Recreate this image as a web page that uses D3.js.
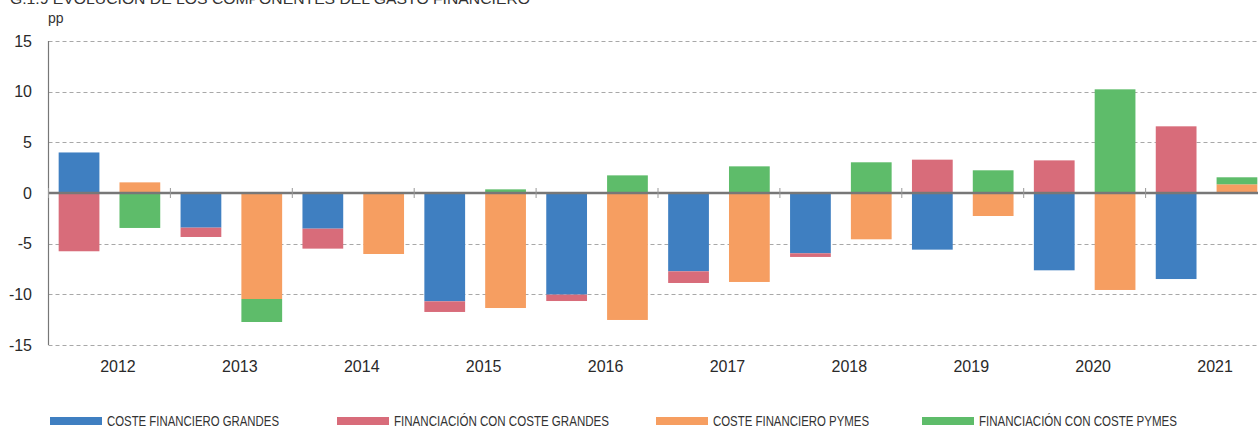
<!DOCTYPE html>
<html>
<head>
<meta charset="utf-8">
<script src="https://cdn.jsdelivr.net/npm/d3@7"></script>
<style>
  html, body { margin: 0; padding: 0; background: #fff; }
  svg { display: block; font-family: "Liberation Sans", Arial, Helvetica, sans-serif; }
</style>
</head>
<body>
<svg id="chart" width="1258" height="427"></svg>
<script>
// Years on the category axis
const years = ["2012", "2013", "2014", "2015", "2016", "2017", "2018", "2019", "2020", "2021"];

// Contributions (pp) – large firms
const costeGrandes   = [4.0, -3.42, -3.52, -10.69, -10.03, -7.73, -5.95, -5.59, -7.63, -8.49];
const financGrandes  = [-5.75, -0.92, -1.97, -1.05, -0.63, -1.15, -0.36, 3.29, 3.22, 6.58];
// Contributions (pp) – SMEs
const costePymes     = [1.05, -10.46, -6.02, -11.35, -12.53, -8.78, -4.57, -2.27, -9.57, 0.86];
const financPymes    = [-3.45, -2.27, 0, 0.36, 1.74, 2.63, 3.03, 2.24, 10.23, 0.69];

const yTicks = [15, 10, 5, 0, -5, -10, -15];

const seriesNames = [
  "COSTE FINANCIERO GRANDES",
  "FINANCIACIÓN CON COSTE GRANDES",
  "COSTE FINANCIERO PYMES",
  "FINANCIACIÓN CON COSTE PYMES"
];
const colors = ["#3f7fc1", "#d86c7a", "#f69e61", "#5ebc6a"];

const svg = d3.select("#chart");

const plotLeft = 48.5, plotRight = 1267.5, plotTop = 41, plotBottom = 345;

const y = d3.scaleLinear().domain([-15, 15]).range([plotBottom, plotTop]);
const x0 = d3.scaleBand().domain(years).range([plotLeft, plotRight]).padding(0);
const x1 = d3.scaleBand().domain(["grandes", "pymes"]).range([0, x0.bandwidth()])
  .paddingInner(0.33).paddingOuter(0.167);

// Title (runs off the top edge of the frame)
svg.append("text")
  .attr("x", 10).attr("y", 4)
  .attr("font-size", 15).attr("fill", "#333")
  .attr("textLength", 520).attr("lengthAdjust", "spacingAndGlyphs")
  .text("G.1.9  EVOLUCIÓN DE LOS COMPONENTES DEL GASTO FINANCIERO");

// Unit label
svg.append("text")
  .attr("x", 48).attr("y", 23)
  .attr("font-size", 14).attr("fill", "#333")
  .text("pp");

// Grid lines
svg.append("g").selectAll("line")
  .data(yTicks.filter(d => d !== 0))
  .join("line")
  .attr("x1", plotLeft).attr("x2", 1258)
  .attr("y1", d => Math.round(y(d)) + 0.5).attr("y2", d => Math.round(y(d)) + 0.5)
  .attr("stroke", "#a8a8a8").attr("stroke-width", 1)
  .attr("stroke-dasharray", "4,3");

// Y tick labels
svg.append("g").selectAll("text")
  .data(yTicks)
  .join("text")
  .attr("x", 32).attr("y", d => y(d))
  .attr("dy", "0.36em")
  .attr("text-anchor", "end")
  .attr("font-size", 16).attr("fill", "#2a2a2a")
  .text(d => d);

// Stacked bars: each year has one bar for large firms and one for SMEs
const groups = [
  { key: "grandes", series: [costeGrandes, financGrandes], colorIdx: [0, 1] },
  { key: "pymes",   series: [costePymes, financPymes],     colorIdx: [2, 3] }
];

const barsG = svg.append("g");
groups.forEach(g => {
  const rows = years.map((yr, i) => ({ year: yr, a: g.series[0][i], b: g.series[1][i] }));
  const stacked = d3.stack().keys(["a", "b"]).offset(d3.stackOffsetDiverging)(rows);
  stacked.forEach((layer, li) => {
    barsG.append("g")
      .attr("fill", colors[g.colorIdx[li]])
      .selectAll("rect")
      .data(layer)
      .join("rect")
      .attr("x", d => x0(d.data.year) + x1(g.key))
      .attr("width", x1.bandwidth())
      .attr("y", d => y(Math.max(d[0], d[1])))
      .attr("height", d => Math.abs(y(d[0]) - y(d[1])));
  });
});

// Y axis line
svg.append("line")
  .attr("x1", plotLeft).attr("x2", plotLeft)
  .attr("y1", plotTop).attr("y2", plotBottom)
  .attr("stroke", "#777").attr("stroke-width", 1.2);

// Zero line
svg.append("line")
  .attr("x1", plotLeft).attr("x2", 1258)
  .attr("y1", y(0)).attr("y2", y(0))
  .attr("stroke", "#777").attr("stroke-width", 2.6);

// Year separator ticks on the zero line
svg.append("g").selectAll("line")
  .data(years)
  .join("line")
  .attr("x1", d => x0(d)).attr("x2", d => x0(d))
  .attr("y1", y(0) - 5).attr("y2", y(0) + 5)
  .attr("stroke", "#999").attr("stroke-width", 1);

// Year labels
svg.append("g").selectAll("text")
  .data(years)
  .join("text")
  .attr("x", d => x0(d) + x0.bandwidth() / 2 + 8.5)
  .attr("y", 372)
  .attr("text-anchor", "middle")
  .attr("font-size", 16).attr("fill", "#2a2a2a")
  .text(d => d);

// Legend
const legendX = [50, 337, 656, 922];
const legendTextW = [172, 215, 156, 198];
const legend = svg.append("g");
seriesNames.forEach((name, i) => {
  legend.append("rect")
    .attr("x", legendX[i]).attr("y", 417)
    .attr("width", 52).attr("height", 8)
    .attr("fill", colors[i]);
  legend.append("text")
    .attr("x", legendX[i] + 57).attr("y", 425.5)
    .attr("font-size", 14).attr("fill", "#333")
    .attr("textLength", legendTextW[i]).attr("lengthAdjust", "spacingAndGlyphs")
    .text(name);
});
</script>
</body>
</html>
